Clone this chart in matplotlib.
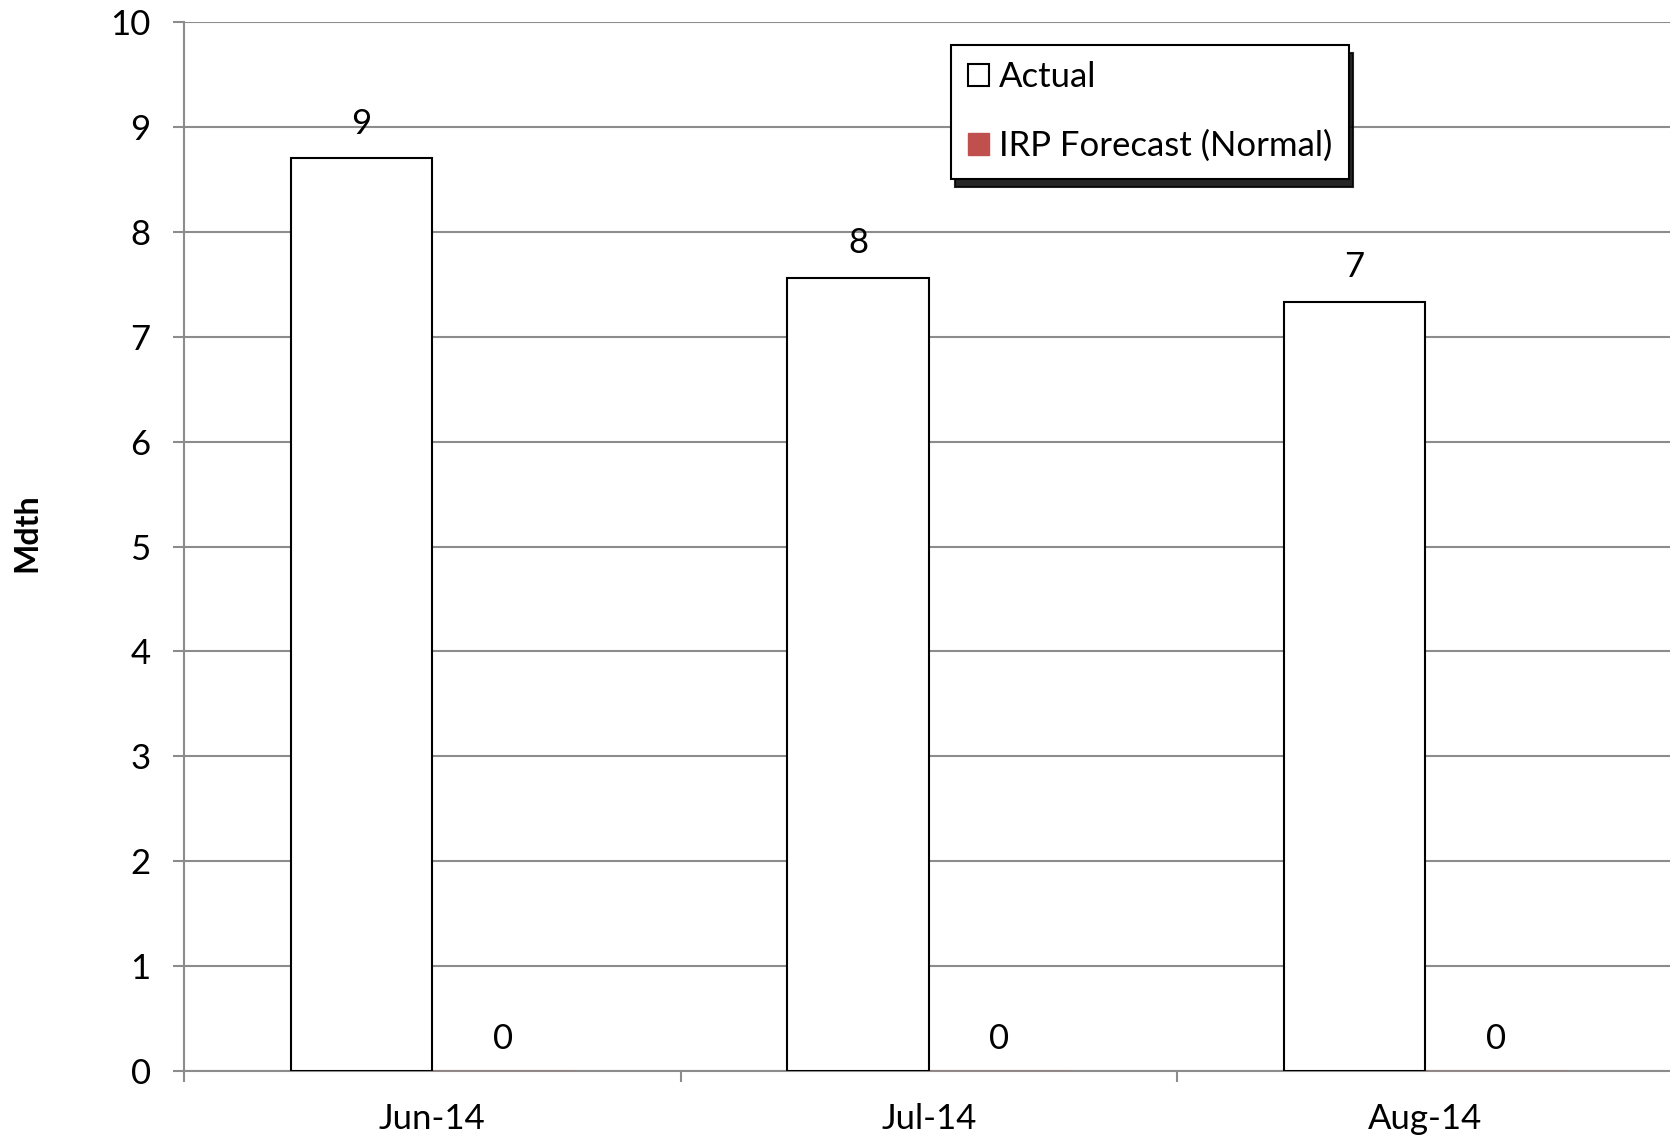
import matplotlib.pyplot as plt
import numpy as np
from matplotlib.patches import Patch

plt.rcParams['font.family'] = ['Lato', 'DejaVu Sans']

months = ['Jun-14', 'Jul-14', 'Aug-14']
actual = [8.70, 7.56, 7.33]
forecast = [0, 0, 0]
actual_labels = ['9', '8', '7']
forecast_labels = ['0', '0', '0']

fig = plt.figure(figsize=(16.7, 11.46), dpi=100)
ax = fig.add_axes([0.1102, 0.0654, 0.8898, 0.9154])

x = np.arange(len(months)) + 0.5
w = 0.285
ax.bar(x - w / 2, actual, w, color='white', edgecolor='black', linewidth=1.5, zorder=3)
ax.bar(x + w / 2, forecast, w, color='#C0504D', edgecolor='#C0504D', zorder=3)

for xi, v, s in zip(x - w / 2, actual, actual_labels):
    ax.text(xi, v + 0.33, s, ha='center', va='center', fontsize=25)
for xi, v, s in zip(x + w / 2, forecast, forecast_labels):
    ax.text(xi, v + 0.31, s, ha='center', va='center', fontsize=25)

ax.set_xlim(0, 2.993)
ax.set_ylim(0, 10)
ax.set_yticks(range(0, 11))
ax.yaxis.grid(True, color='#8c8c8c', linewidth=1.5)
ax.set_axisbelow(True)

ax.set_xticks([0, 1, 2])
ax.set_xticklabels([])
ax.set_xticks(x, minor=True)
ax.set_xticklabels(months, minor=True)
ax.tick_params(axis='x', which='major', length=8, width=1.5, color='#8c8c8c')
ax.tick_params(axis='x', which='minor', length=0, pad=23, labelsize=25)
ax.tick_params(axis='y', length=8, width=1.5, color='#8c8c8c', pad=16, labelsize=25)

for side in ['top', 'right']:
    ax.spines[side].set_visible(False)
for side in ['left', 'bottom']:
    ax.spines[side].set_color('#8c8c8c')
    ax.spines[side].set_linewidth(1.5)

fig.text(0.016, 0.535, 'Mdth', rotation=90, ha='center', va='center',
         fontsize=23, fontweight='bold')

handles = [Patch(facecolor='white', edgecolor='black', linewidth=1.5, label='Actual'),
           Patch(facecolor='#C0504D', edgecolor='#C0504D', label='IRP Forecast (Normal)')]
leg = ax.legend(handles=handles, loc='upper left', bbox_to_anchor=(0.5695, 0.961),
                bbox_transform=fig.transFigure, fontsize=25, frameon=True, fancybox=False,
                shadow={'ox': 3, 'oy': -6, 'color': 'black', 'alpha': 0.85},
                edgecolor='black', handlelength=0.6, handleheight=0.6, handletextpad=0.3,
                labelspacing=1.05, borderpad=0.48, borderaxespad=0)
leg.get_frame().set_linewidth(1.5)

fig.savefig('out.png', dpi=100)
